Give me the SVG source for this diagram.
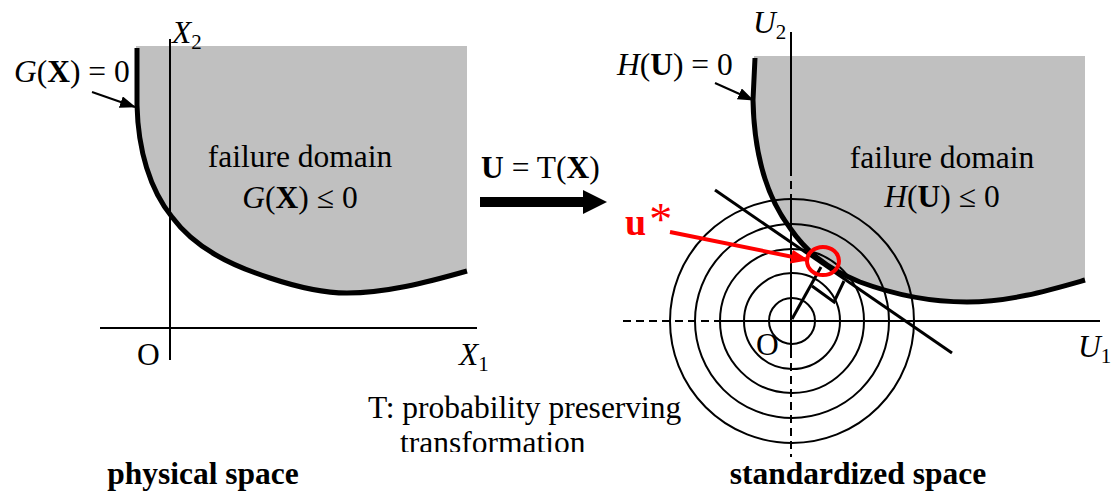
<svg xmlns="http://www.w3.org/2000/svg" width="1116" height="500" viewBox="0 0 1116 500">
<style>
text{font-family:"Liberation Serif","Times New Roman",serif;font-size:31.5px;fill:#000}
.i{font-style:italic}
.b{font-weight:bold}
.sub{font-size:21px}
.c{text-anchor:middle}
.fill{fill:#c0c0c0;stroke:none}
.ax{stroke:#000;stroke-width:2;fill:none}
.dash{stroke:#000;stroke-width:2;fill:none;stroke-dasharray:8 5}
.lsf{stroke:#000;stroke-width:5;fill:none;stroke-linejoin:round}
.circ{stroke:#000;stroke-width:2;fill:none}
.thick{stroke:#000;stroke-width:3;fill:none}
</style>
<defs>
<marker id="ah" markerUnits="userSpaceOnUse" markerWidth="16" markerHeight="12" refX="15" refY="6" orient="auto">
<path d="M0,0 L16,6 L0,12 Z" fill="#000"/>
</marker>
<marker id="ahr" markerUnits="userSpaceOnUse" markerWidth="18" markerHeight="14" refX="17" refY="7" orient="auto">
<path d="M0,0 L18,7 L0,14 Z" fill="#ff0000"/>
</marker>
<clipPath id="cut"><rect x="0" y="0" width="1116" height="452"/></clipPath>
</defs>

<g id="physical-space">
<path class="fill" d="M136,46 L137,105 C138,150 150,190 172,217 C195,248 230,265 270,278 C300,288 325,293 347,293 C385,293 425,283 467,271 L467,46 Z"/>
<line class="ax" x1="170" y1="39" x2="170" y2="360"/>
<line class="ax" x1="100" y1="328" x2="477" y2="328"/>
<path class="lsf" d="M137,48 L137,105 C138,150 150,190 172,217 C195,248 230,265 270,278 C300,288 325,293 347,293 C385,293 425,283 467,271"/>
<text x="172" y="43"><tspan class="i">X</tspan><tspan class="sub" dy="6">2</tspan></text>
<text x="137" y="365">O</text>
<text x="459" y="365"><tspan class="i">X</tspan><tspan class="sub" dy="6">1</tspan></text>
<text class="c" x="300" y="167">failure domain</text>
<text class="c" x="300" y="208"><tspan class="i">G</tspan>(<tspan class="b">X</tspan>) ≤ 0</text>
<text x="14" y="82"><tspan class="i">G</tspan>(<tspan class="b">X</tspan>) = 0</text>
<text class="b c" x="203" y="484">physical space</text>
</g>

<g id="transformation">
<rect x="480" y="197" width="105" height="10" fill="#000"/>
<path d="M583,190 L607,202 L583,214 Z" fill="#000"/>
<text x="481" y="178"><tspan class="b">U</tspan> = T(<tspan class="b">X</tspan>)</text>
<text x="368" y="418">T: probability preserving</text>
<text x="400" y="453" clip-path="url(#cut)">transformation</text>
</g>

<g id="standardized-space">
<path class="fill" d="M754,56 L753,100 C754,150 765,195 790,228 C805,250 825,268 860,282 C895,295 930,302 967,302 C1010,302 1050,290 1085,280 L1085,56 Z"/>
<line class="ax" x1="791" y1="32" x2="791" y2="168"/>
<line class="ax" x1="791" y1="200" x2="791" y2="350"/>
<line class="dash" x1="791" y1="168" x2="791" y2="457"/>
<line class="ax" x1="722" y1="321" x2="1100" y2="321"/>
<line class="dash" x1="623" y1="321" x2="952" y2="321"/>
<circle class="circ" cx="792" cy="321" r="23"/>
<circle class="circ" cx="792" cy="321" r="48"/>
<circle class="circ" cx="792" cy="321" r="72"/>
<circle class="circ" cx="792" cy="321" r="97"/>
<circle class="circ" cx="792" cy="321" r="122"/>
<path class="lsf" d="M755,58 L753,100 C754,150 765,195 790,228 C805,250 825,268 860,282 C895,295 930,302 967,302 C1010,302 1050,290 1085,280"/>
<text x="753" y="33"><tspan class="i">U</tspan><tspan class="sub" dy="6">2</tspan></text>
<text x="1078" y="357"><tspan class="i">U</tspan><tspan class="sub" dy="6">1</tspan></text>
<text x="756" y="355">O</text>
<text class="c" x="942" y="168">failure domain</text>
<text class="c" x="942" y="207"><tspan class="i">H</tspan>(<tspan class="b">U</tspan>) ≤ 0</text>
<text x="617" y="75"><tspan class="i">H</tspan>(<tspan class="b">U</tspan>) = 0</text>
<text class="b c" x="858" y="484">standardized space</text>
</g>

<g id="design-point">
<line class="thick" x1="715" y1="190" x2="952" y2="353"/>
<line class="thick" x1="792" y1="319" x2="821" y2="267"/>
<polyline class="thick" points="812,286 834,302 844,281"/>
<ellipse cx="823" cy="261" rx="16" ry="14" fill="none" stroke="#ff0000" stroke-width="4"/>
<text x="625" y="235" style="fill:#ff0000;font-size:38px"><tspan class="b">u</tspan><tspan dx="3" style="font-size:46px">*</tspan></text>
</g>

<g id="connectors">
<line x1="92" y1="92" x2="135" y2="107" stroke="#000" stroke-width="2" marker-end="url(#ah)"/>
<line x1="715" y1="83" x2="753" y2="100" stroke="#000" stroke-width="2" marker-end="url(#ah)"/>
<line x1="670" y1="232" x2="808" y2="260" stroke="#ff0000" stroke-width="4" marker-end="url(#ahr)"/>
</g>
</svg>
